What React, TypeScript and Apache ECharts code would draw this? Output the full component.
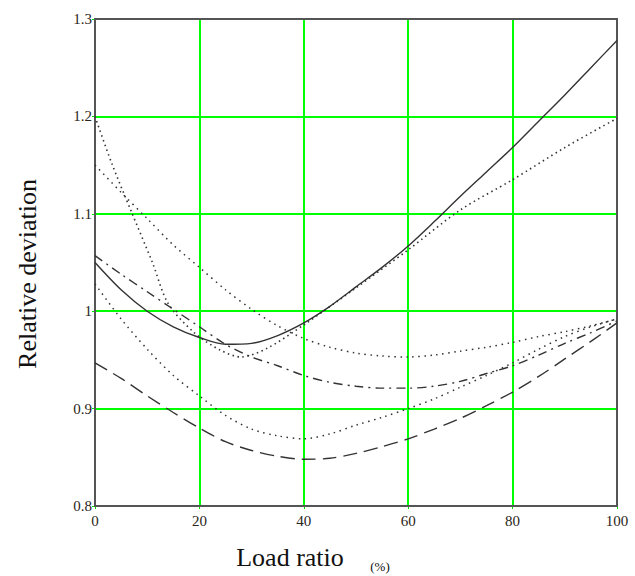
import React, { useEffect, useRef } from "react";
import * as echarts from "echarts";

const xTicks = [0, 20, 40, 60, 80, 100];
const xs = [0, 5, 10, 15, 20, 25, 30, 35, 40, 45, 50, 55, 60, 65, 70, 75, 80, 85, 90, 95, 100];

const solidVals = [1.05, 1.022, 1.0, 0.984, 0.973, 0.966, 0.967, 0.975, 0.988, 1.005, 1.025, 1.045, 1.067, 1.092, 1.118, 1.143, 1.168, 1.195, 1.222, 1.25, 1.278];
const steepDotX = [0, 3.2, 6.9, 11, 14, 19, 24, 28, 33, 40, 50, 60, 70, 80, 90, 100];
const steepDotVals = [1.2, 1.152, 1.103, 1.05, 1.008, 0.978, 0.96, 0.953, 0.962, 0.986, 1.024, 1.063, 1.104, 1.135, 1.168, 1.198];
const upperDotVals = [1.15, 1.122, 1.095, 1.068, 1.045, 1.022, 1.002, 0.985, 0.972, 0.963, 0.957, 0.954, 0.953, 0.955, 0.959, 0.963, 0.968, 0.974, 0.979, 0.985, 0.992];
const dashDotVals = [1.057, 1.038, 1.02, 1.002, 0.984, 0.966, 0.953, 0.944, 0.934, 0.927, 0.923, 0.921, 0.921, 0.923, 0.928, 0.936, 0.944, 0.955, 0.967, 0.978, 0.99];
const lowerDotVals = [1.028, 0.992, 0.961, 0.934, 0.913, 0.893, 0.879, 0.872, 0.869, 0.874, 0.883, 0.891, 0.9, 0.91, 0.922, 0.934, 0.947, 0.961, 0.974, 0.984, 0.992];
const longDashVals = [0.947, 0.931, 0.913, 0.896, 0.88, 0.866, 0.857, 0.851, 0.848, 0.849, 0.854, 0.861, 0.869, 0.879, 0.89, 0.903, 0.917, 0.933, 0.951, 0.969, 0.988];

const pair = (x: number[], y: number[]) => x.map((v, i) => [v, y[i]]);

export default function App() {
  const ref = useRef<HTMLDivElement>(null);
  useEffect(() => {
    if (!ref.current) return;
    const chart = echarts.init(ref.current, undefined, { renderer: "svg" });
    const lineColor = "#333";
    const mk = (data: number[][], type: any, width = 1.3) => ({
      type: "line",
      data,
      smooth: 0.3,
      symbol: "none",
      lineStyle: { color: lineColor, width, type },
      z: 5,
    });
    const font = "Times New Roman, Liberation Serif, DejaVu Serif, serif";
    const split = {
      show: true,
      showMinLine: false,
      showMaxLine: false,
      lineStyle: { color: "#00ff00", width: 2 },
    };
    chart.setOption({
      animation: false,
      textStyle: { fontFamily: font },
      grid: {
        left: 95,
        right: 18,
        top: 19,
        bottom: 70,
        show: true,
        borderColor: "#555",
        borderWidth: 2,
        z: 3,
      },
      xAxis: {
        type: "value",
        min: 0,
        max: 100,
        interval: 20,
        axisLine: { show: false },
        axisTick: { show: true, length: 3, lineStyle: { color: "#00e600" } },
        splitLine: split,
        axisLabel: { color: "#2a2418", fontFamily: font, fontSize: 15, margin: 7 },
      },
      yAxis: {
        type: "value",
        min: 0.8,
        max: 1.3,
        interval: 0.1,
        axisLine: { show: false },
        axisTick: { show: true, length: 3, lineStyle: { color: "#00e600" } },
        splitLine: split,
        axisLabel: {
          color: "#2a2418",
          fontFamily: font,
          fontSize: 15,
          margin: 3,
          formatter: (v: number) => String(parseFloat(v.toFixed(1))),
        },
      },
      graphic: [
        {
          type: "text",
          x: 27,
          y: 274,
          rotation: Math.PI / 2,
          style: {
            text: "Relative deviation",
            fontFamily: font,
            fontSize: 26,
            fill: "#111",
            align: "center",
            verticalAlign: "middle",
          },
        },
        {
          type: "text",
          x: 290,
          y: 557,
          style: {
            text: "Load ratio",
            fontFamily: font,
            fontSize: 26,
            fill: "#111",
            align: "center",
            verticalAlign: "middle",
          },
        },
        {
          type: "text",
          x: 380,
          y: 566,
          style: {
            text: "(%)",
            fontFamily: font,
            fontSize: 13,
            fill: "#111",
            align: "center",
            verticalAlign: "middle",
          },
        },
      ],
      series: [
        mk(pair(xs, solidVals), "solid", 1.4),
        mk(pair(steepDotX, steepDotVals), [1.5, 3.5], 1.6),
        mk(pair(xs, upperDotVals), [1.5, 4.5], 1.5),
        mk(pair(xs, dashDotVals), [9, 5, 2, 5], 1.4),
        mk(pair(xs, lowerDotVals), [1.5, 4.5], 1.5),
        mk(pair(xs, longDashVals), [14, 7], 1.4),
      ],
    });
    return () => chart.dispose();
  }, []);
  return (
    <div
      ref={ref}
      style={{ position: "absolute", left: 0, top: 0, width: 635, height: 576, background: "#fff" }}
    />
  );
}
